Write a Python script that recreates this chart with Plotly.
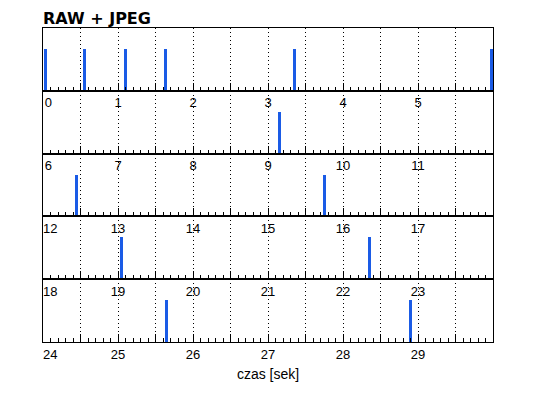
import numpy as np
import plotly.graph_objects as go
from plotly.subplots import make_subplots

# ---- data ----
title_text = "RAW + JPEG"
x_title = "czas [sek]"
seconds_per_row = 6
n_rows = 5
event_times = [0.03, 0.556, 1.098, 1.631, 3.351, 5.982,
               9.151,
               12.444, 15.751,
               19.044, 22.351,
               25.644, 28.898]
event_values = [1] * len(event_times)
bar_width = 0.036
y_max = 1.515

BLUE = "#1a5be6"
FONT = "Liberation Sans"

fig = make_subplots(rows=n_rows, cols=1, vertical_spacing=0)

for r in range(n_rows):
    start = r * seconds_per_row
    end = start + seconds_per_row
    xs = [t for t in event_times if start <= t < end]
    ys = [v for t, v in zip(event_times, event_values) if start <= t < end]
    fig.add_trace(go.Bar(x=xs, y=ys, width=bar_width, marker=dict(color=BLUE, line=dict(width=0)),
                         showlegend=False, hoverinfo="x"), row=r + 1, col=1)

    tickvals = list(np.arange(start, end, 0.5))
    ticktext = []
    for v in tickvals:
        if float(v).is_integer():
            s = str(int(v))
            if v == start:
                s = "\u00a0" * (len(s) + 2) + s
            ticktext.append(s)
        else:
            ticktext.append("")
    fig.update_xaxes(
        range=[start, end], tickmode="array", tickvals=tickvals, ticktext=ticktext,
        ticks="inside", ticklen=8, tickwidth=1, tickcolor="black",
        minor=dict(tickmode="linear", tick0=0, dtick=0.1, ticks="inside", ticklen=4,
                   tickcolor="black", tickwidth=1, showgrid=False),
        showgrid=True, gridcolor="black", gridwidth=1, griddash="1px,3px",
        showline=True, mirror=True, linecolor="black", linewidth=1,
        zeroline=False, tickfont=dict(family=FONT, size=13, color="black"),
        row=r + 1, col=1)
    fig.update_yaxes(range=[0, y_max], showticklabels=False, ticks="", showgrid=False,
                     zeroline=False, showline=True, mirror=True, linecolor="black",
                     linewidth=1, row=r + 1, col=1)

fig.update_xaxes(title=dict(text=x_title, font=dict(family=FONT, size=14, color="black"), standoff=8),
                 row=n_rows, col=1)

fig.update_layout(
    width=538, height=398,
    margin=dict(l=43, r=45, t=28, b=56, autoexpand=False),
    paper_bgcolor="white", plot_bgcolor="white",
    bargap=0,
    title=dict(text="<b>" + title_text + "</b>", font=dict(family="DejaVu Sans", size=16, color="black"),
               x=43 / 538, xanchor="left", xref="container", y=1 - 18.5 / 398, yanchor="middle", yref="container"),
)

fig.write_html("out.html", config={"displayModeBar": False},
               post_script="document.body.style.margin='0';document.body.style.overflow='hidden';")
